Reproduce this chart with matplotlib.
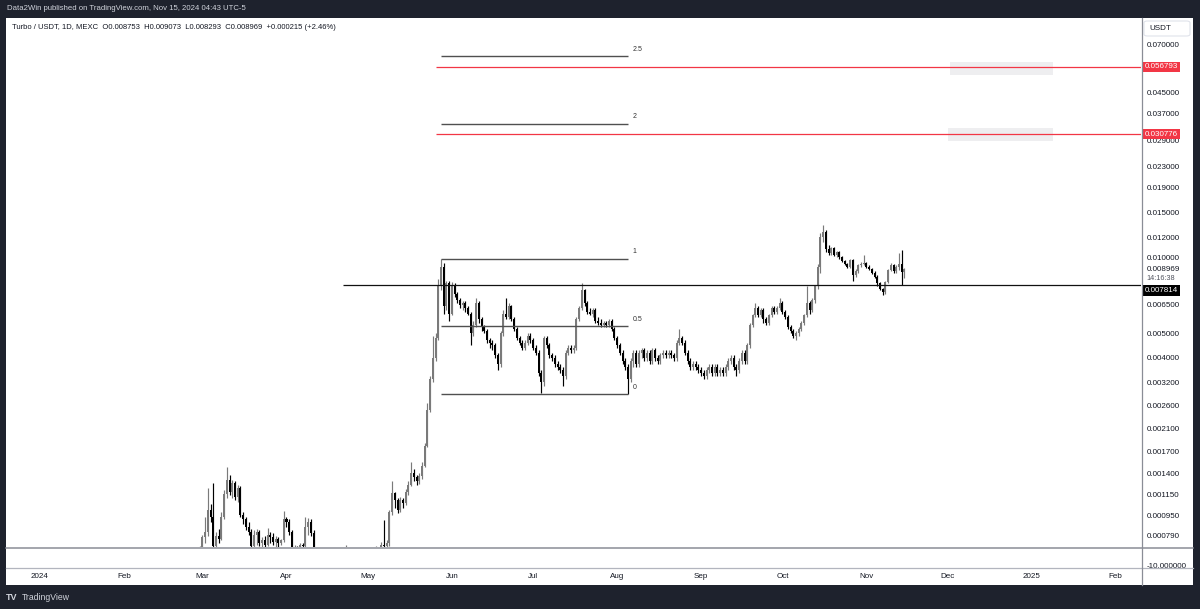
import numpy as np
import matplotlib
matplotlib.use("Agg")
import matplotlib.pyplot as plt
from matplotlib.patches import Rectangle, FancyBboxPatch
from matplotlib.lines import Line2D
from matplotlib.ticker import NullLocator

plt.rcParams['font.family'] = ['Liberation Sans', 'DejaVu Sans']

# ---------------- data ----------------
start_date = '2024-02-27'
first_open = 0.00060

close = [
    0.00062, 0.00066, 0.00069, 0.00078, 0.00082, 0.00100, 0.00094, 0.00072, 0.00079, 0.00077,
    0.00094, 0.00116, 0.00132, 0.00118, 0.00128, 0.00113, 0.00122, 0.00096, 0.00092, 0.00086,
    0.00082, 0.00072, 0.00080, 0.00082, 0.00074, 0.00076, 0.00073, 0.00080, 0.00078, 0.00075,
    0.00077, 0.00074, 0.00076, 0.00092, 0.00090, 0.00082, 0.00070, 0.00071, 0.00069, 0.00073,
    0.00072, 0.00086, 0.00090, 0.00081, 0.00068, 0.00064, 0.00062, 0.00060, 0.00057, 0.00055,
    0.00058, 0.00060, 0.00057, 0.00055, 0.00056, 0.00059, 0.00062, 0.00059, 0.00057, 0.00055,
    0.00054, 0.00056, 0.00058, 0.00060, 0.00062, 0.00064, 0.00063, 0.00065, 0.00068, 0.00073,
    0.00072, 0.00074, 0.00098, 0.00117, 0.00110, 0.00100, 0.00110, 0.00107, 0.00118, 0.00126,
    0.00140, 0.00135, 0.00130, 0.00136, 0.00150, 0.00180, 0.00250, 0.00330, 0.00400, 0.00480,
    0.0078, 0.0092, 0.0064, 0.0079, 0.0060, 0.0078, 0.0072, 0.0068, 0.0065, 0.0066,
    0.0063, 0.0060, 0.0050, 0.0054, 0.0066, 0.0057, 0.0053, 0.0051, 0.0047, 0.0046,
    0.0045, 0.0041, 0.0038, 0.0050, 0.0060, 0.0058, 0.0064, 0.0057, 0.0052, 0.0048,
    0.0046, 0.0044, 0.0046, 0.0049, 0.0047, 0.0044, 0.0042, 0.0035, 0.0032, 0.0048,
    0.0045, 0.0041, 0.0040, 0.0038, 0.0037, 0.0036, 0.0034, 0.0042, 0.0044, 0.0043,
    0.0044, 0.0057, 0.0063, 0.0074, 0.0066, 0.0061, 0.0060, 0.0062, 0.0056, 0.0055,
    0.0054, 0.0055, 0.0054, 0.0056, 0.0052, 0.0048, 0.0045, 0.0042, 0.0039, 0.0037,
    0.0033, 0.0039, 0.0042, 0.0038, 0.0042, 0.0043, 0.0040, 0.0042, 0.0039, 0.0043,
    0.0040, 0.0039, 0.0041, 0.0042, 0.0041, 0.0042, 0.0041, 0.0040, 0.0046, 0.0048,
    0.0046, 0.0042, 0.0039, 0.0037, 0.0038, 0.0037, 0.0036, 0.0035, 0.0034, 0.0036,
    0.0037, 0.0035, 0.0037, 0.0035, 0.0036, 0.0035, 0.0037, 0.0039, 0.0040, 0.0037,
    0.0036, 0.0039, 0.0042, 0.0039, 0.0045, 0.0054, 0.0059, 0.0063, 0.0059, 0.0062,
    0.0057, 0.0055, 0.0059, 0.0063, 0.0061, 0.0063, 0.0066, 0.0061, 0.0058, 0.0053,
    0.0051, 0.0049, 0.0050, 0.0052, 0.0055, 0.0059, 0.0066, 0.0062, 0.0068, 0.0077,
    0.0092, 0.0120, 0.0126, 0.0108, 0.0104, 0.0109, 0.0102, 0.0105, 0.0100, 0.0097,
    0.0094, 0.0092, 0.0098, 0.0085, 0.0088, 0.0093, 0.0094, 0.0095, 0.0092, 0.0090,
    0.0087, 0.0084, 0.0079, 0.0075, 0.0073, 0.0080, 0.0089, 0.0093, 0.0088, 0.0092,
    0.0094, 0.008753, 0.008969,
]

high = [
    0.00064, 0.00068, 0.00072, 0.00080, 0.00094, 0.00122, 0.00106, 0.00128, 0.00082, 0.00084,
    0.00098, 0.00120, 0.00148, 0.00138, 0.00132, 0.00130, 0.00126, 0.00124, 0.00098, 0.00094,
    0.00090, 0.00084, 0.00083, 0.00084, 0.00083, 0.00078, 0.00079, 0.00085, 0.00082, 0.00081,
    0.00079, 0.00078, 0.00077, 0.00099, 0.00094, 0.00092, 0.00083, 0.00073, 0.00072, 0.00074,
    0.00074, 0.00094, 0.00093, 0.00092, 0.00083, 0.00071, 0.00066, 0.00064, 0.00061, 0.00058,
    0.00060, 0.00062, 0.00061, 0.00058, 0.00058, 0.00062, 0.00073, 0.00063, 0.00060, 0.00058,
    0.00056, 0.00058, 0.00060, 0.00063, 0.00065, 0.00067, 0.00066, 0.00072, 0.00071, 0.00075,
    0.00091, 0.00076, 0.00100, 0.00130, 0.00118, 0.00112, 0.00113, 0.00112, 0.00121, 0.00130,
    0.00155, 0.00145, 0.00138, 0.00140, 0.00155, 0.00185, 0.00265, 0.00340, 0.00490, 0.00500,
    0.0082, 0.0099, 0.0095, 0.0081, 0.0081, 0.0080, 0.0079, 0.0073, 0.0069, 0.0067,
    0.0067, 0.0064, 0.0061, 0.0056, 0.0069, 0.0067, 0.0058, 0.0054, 0.0052, 0.0048,
    0.0047, 0.0046, 0.0042, 0.0051, 0.0062, 0.0069, 0.0066, 0.0065, 0.0058, 0.0053,
    0.0049, 0.0047, 0.0047, 0.0050, 0.0050, 0.0048, 0.0045, 0.0043, 0.0036, 0.0049,
    0.0049, 0.0046, 0.0042, 0.0041, 0.0039, 0.0038, 0.0037, 0.0043, 0.0045, 0.0045,
    0.0045, 0.0058, 0.0064, 0.0079, 0.0075, 0.0067, 0.0063, 0.0063, 0.0063, 0.0058,
    0.0057, 0.0056, 0.0056, 0.0057, 0.0057, 0.0053, 0.0049, 0.0046, 0.0043, 0.0040,
    0.0038, 0.0040, 0.0043, 0.0043, 0.0043, 0.0044, 0.0044, 0.0043, 0.0043, 0.0044,
    0.0044, 0.0041, 0.0042, 0.0043, 0.0043, 0.0043, 0.0043, 0.0042, 0.0047, 0.0052,
    0.0049, 0.0047, 0.0043, 0.0040, 0.0039, 0.0039, 0.0038, 0.0037, 0.0036, 0.0037,
    0.0038, 0.0038, 0.0038, 0.0038, 0.0037, 0.0037, 0.0038, 0.0040, 0.0041, 0.0041,
    0.0038, 0.0040, 0.0043, 0.0043, 0.0046, 0.0055, 0.0060, 0.0066, 0.0064, 0.0063,
    0.0063, 0.0058, 0.0060, 0.0064, 0.0064, 0.0064, 0.0069, 0.0067, 0.0062, 0.0059,
    0.0054, 0.0052, 0.0051, 0.0053, 0.0056, 0.0060, 0.0077, 0.0067, 0.0069, 0.0078,
    0.0094, 0.0125, 0.0134, 0.0128, 0.0112, 0.0110, 0.0110, 0.0106, 0.0106, 0.0101,
    0.0098, 0.0095, 0.0099, 0.0099, 0.0090, 0.0094, 0.0096, 0.0102, 0.0096, 0.0093,
    0.0091, 0.0088, 0.0085, 0.0080, 0.0076, 0.0081, 0.0090, 0.0095, 0.0094, 0.0093,
    0.0104, 0.0107, 0.009073,
]

low = [
    0.00058, 0.00061, 0.00064, 0.00068, 0.00074, 0.00079, 0.00090, 0.00068, 0.00070, 0.00074,
    0.00076, 0.00092, 0.00112, 0.00115, 0.00112, 0.00110, 0.00108, 0.00094, 0.00088, 0.00083,
    0.00080, 0.00070, 0.00071, 0.00073, 0.00072, 0.00071, 0.00070, 0.00072, 0.00074, 0.00073,
    0.00071, 0.00070, 0.00073, 0.00075, 0.00086, 0.00080, 0.00068, 0.00066, 0.00065, 0.00067,
    0.00069, 0.00071, 0.00080, 0.00079, 0.00066, 0.00062, 0.00060, 0.00058, 0.00055, 0.00053,
    0.00054, 0.00056, 0.00055, 0.00053, 0.00052, 0.00055, 0.00058, 0.00057, 0.00055, 0.00053,
    0.00052, 0.00053, 0.00055, 0.00057, 0.00059, 0.00061, 0.00060, 0.00062, 0.00064, 0.00066,
    0.00068, 0.00070, 0.00072, 0.00096, 0.00102, 0.00097, 0.00098, 0.00102, 0.00105, 0.00115,
    0.00124, 0.00130, 0.00126, 0.00127, 0.00133, 0.00148, 0.00178, 0.00245, 0.00320, 0.00390,
    0.0047, 0.0074, 0.0060, 0.0062, 0.0056, 0.0059, 0.0070, 0.0066, 0.0063, 0.0062,
    0.0061, 0.0059, 0.0045, 0.0049, 0.0053, 0.0055, 0.0051, 0.0050, 0.0046, 0.0044,
    0.0043, 0.0040, 0.0036, 0.0037, 0.0049, 0.0057, 0.0057, 0.0056, 0.0051, 0.0047,
    0.0045, 0.0043, 0.0043, 0.0045, 0.0046, 0.0043, 0.0041, 0.0034, 0.0029, 0.0031,
    0.0044, 0.0040, 0.0039, 0.0037, 0.0036, 0.0035, 0.0031, 0.0033, 0.0041, 0.0042,
    0.0042, 0.0043, 0.0056, 0.0062, 0.0064, 0.0060, 0.0059, 0.0058, 0.0055, 0.0054,
    0.0053, 0.0053, 0.0053, 0.0053, 0.0051, 0.0047, 0.0044, 0.0041, 0.0038, 0.0036,
    0.00287, 0.0032, 0.0037, 0.0037, 0.0037, 0.0040, 0.0039, 0.0039, 0.0038, 0.0038,
    0.0039, 0.0038, 0.0038, 0.0040, 0.0040, 0.0040, 0.0040, 0.0039, 0.0039, 0.0045,
    0.0045, 0.0041, 0.0038, 0.0036, 0.0036, 0.0036, 0.0035, 0.0034, 0.0033, 0.0033,
    0.0035, 0.0034, 0.0034, 0.0034, 0.0034, 0.0034, 0.0034, 0.0036, 0.0038, 0.0036,
    0.0034, 0.0035, 0.0038, 0.0038, 0.0038, 0.0044, 0.0053, 0.0058, 0.0058, 0.0058,
    0.0055, 0.0054, 0.0054, 0.0058, 0.0060, 0.0060, 0.0062, 0.0060, 0.0057, 0.0052,
    0.0050, 0.0048, 0.0047, 0.0049, 0.0051, 0.0054, 0.0058, 0.0060, 0.0061, 0.0066,
    0.0075, 0.0087, 0.0115, 0.0105, 0.0102, 0.0102, 0.0101, 0.0100, 0.0099, 0.0096,
    0.0093, 0.0091, 0.0091, 0.0081, 0.0084, 0.0087, 0.0092, 0.0093, 0.0091, 0.0089,
    0.0086, 0.0083, 0.0077, 0.0074, 0.0071, 0.0072, 0.0079, 0.0088, 0.0087, 0.0087,
    0.0089, 0.0078, 0.008293,
]

# y axis tick values
price_ticks = [0.070, 0.045, 0.037, 0.029, 0.023, 0.019, 0.015, 0.012, 0.010,
               0.0065, 0.005, 0.004, 0.0032, 0.0026, 0.0021, 0.0017, 0.0014,
               0.00115, 0.00095, 0.00079]

# time axis labels
month_dates = ['2024-01-01', '2024-02-01', '2024-03-01', '2024-04-01', '2024-05-01',
               '2024-06-01', '2024-07-01', '2024-08-01', '2024-09-01', '2024-10-01',
               '2024-11-01', '2024-12-01', '2025-01-01', '2025-02-01']
month_labels = ['2024', 'Feb', 'Mar', 'Apr', 'May', 'Jun', 'Jul', 'Aug', 'Sep', 'Oct',
                'Nov', 'Dec', '2025', 'Feb']

# drawings
support_level = 0.007814
support_start = '2024-04-22'
red_levels = [0.056793, 0.030776]
red_start = '2024-05-26'
fib_labels = ['2.5', '2', '1', '0.5', '0']
fib_prices = [0.0625, 0.0338, 0.0099, 0.00533, 0.00287]
fib_start = '2024-05-28'
fib_end = '2024-08-05'
gray_boxes = [  # (start date, end date, low price, high price)
    ('2024-12-02', '2025-01-09', 0.0528, 0.0594),
    ('2024-12-01', '2025-01-09', 0.0289, 0.0326),
]
last_price = 0.008969
countdown = '14:16:38'

# ---------------- helpers ----------------
W, H = 1200, 609
EPOCH = np.datetime64('2024-01-01')


def day(s):
    return int((np.datetime64(s) - EPOCH).astype(int))


def fx(px):
    return px / W


def fy(py):
    return 1 - py / H


TXT = '#131722'
UP = '#7a7a7a'
DOWN = '#000000'
FS = 5.8

fig = plt.figure(figsize=(12, 6.09), dpi=100)
fig.patch.set_facecolor('#1e222d')

# white chart panel
fig.patches.append(Rectangle((fx(6), fy(585)), fx(1193) - fx(6), fy(18) - fy(585),
                             transform=fig.transFigure, facecolor='white',
                             edgecolor='none', zorder=-5))

# ---------------- price pane ----------------
ax = fig.add_axes([fx(6), fy(547), fx(1141) - fx(6), fy(18) - fy(547)])
ax.set_facecolor('none')
ax.set_yscale('log')
ax.set_ylim(0.000714, 0.08873)
ax.set_xlim(-12.5, 406.3)
for s in ax.spines.values():
    s.set_visible(False)

c = np.array(close)
h = np.array(high)
l = np.array(low)
o = np.concatenate([[first_open], c[:-1]])
h = np.maximum(h, np.maximum(o, c))
l = np.minimum(l, np.minimum(o, c))
x = day(start_date) + np.arange(len(c))
is_up = c >= o
cols = np.where(is_up, UP, DOWN)

ax.vlines(x, l, h, colors=cols, linewidth=0.85, zorder=3)
bottoms = np.minimum(o, c)
heights = np.maximum(np.abs(c - o), bottoms * 0.008)
ax.bar(x, heights, bottom=bottoms, width=0.74, color=cols, linewidth=0, zorder=3)

# horizontal support line
ax.hlines(support_level, day(support_start), 420, color='#111111', linewidth=0.9, zorder=4)
# gray boxes
for d1, d2, p1, p2 in gray_boxes:
    ax.add_patch(Rectangle((day(d1), p1), day(d2) - day(d1), p2 - p1,
                           facecolor='#eeeef0', edgecolor='none', zorder=1))
# red lines
ax.hlines(red_levels, day(red_start), 420, color='#f23645', linewidth=0.9, zorder=4)
# fib lines
ax.hlines(fib_prices, day(fib_start), day(fib_end), color='#505050', linewidth=1.0, zorder=4)
for lab, p in zip(fib_labels, fib_prices):
    ax.annotate(lab, (day(fib_end) + 1.6, p), xytext=(0, 2.5), textcoords='offset points',
                fontsize=5.0, color='#333333', ha='left', va='bottom')

# y axis ticks on right
ax.set_yticks(price_ticks)
ax.set_yticklabels(['%.6f' % v for v in price_ticks])
ax.yaxis.set_minor_locator(NullLocator())
ax.yaxis.tick_right()
ax.tick_params(axis='y', length=0, pad=4.2, labelsize=FS, labelcolor=TXT)
ax.set_xticks([])

# price labels
for p in red_levels:
    ax.annotate('%.6f' % p, (1.0, p), xycoords=('axes fraction', 'data'),
                xytext=(2.6, 0), textcoords='offset points', ha='left', va='center',
                fontsize=FS, color='white', annotation_clip=False, zorder=6,
                bbox=dict(boxstyle='square,pad=0.22', fc='#f23645', ec='none'))
ax.annotate('%.6f' % support_level, (1.0, support_level), xycoords=('axes fraction', 'data'),
            xytext=(2.6, -4.3), textcoords='offset points', ha='left', va='center',
            fontsize=FS, color='white', annotation_clip=False, zorder=6,
            bbox=dict(boxstyle='square,pad=0.22', fc='#000000', ec='none'))
ax.annotate('%.6f' % last_price, (1.0, last_price), xycoords=('axes fraction', 'data'),
            xytext=(4.2, 0), textcoords='offset points', ha='left', va='center',
            fontsize=FS, color=TXT, annotation_clip=False, zorder=6,
            bbox=dict(boxstyle='square,pad=0.1', fc='white', ec='none'))
ax.annotate(countdown, (1.0, last_price), xycoords=('axes fraction', 'data'),
            xytext=(4.2, -6.8), textcoords='offset points', ha='left', va='center',
            fontsize=5.2, color='#50535e', annotation_clip=False, zorder=6)

# ---------------- time axis ----------------
axt = fig.add_axes([fx(6), fy(585), fx(1141) - fx(6), fy(568) - fy(585)])
axt.set_facecolor('none')
axt.set_xlim(-12.5, 406.3)
axt.set_ylim(0, 1)
axt.axis('off')
for d, lab in zip(month_dates, month_labels):
    axt.text(day(d), 0.5, lab, ha='center', va='center', fontsize=FS, color=TXT)

# ---------------- frame lines ----------------
def fline(x0, y0, x1, y1, color='#9598a1', lw=0.9):
    fig.lines.append(Line2D([fx(x0), fx(x1)], [fy(y0), fy(y1)], transform=fig.transFigure,
                            color=color, linewidth=lw, zorder=5))

fline(6, 547.5, 1193, 547.5, color='#8a8d96', lw=1.1)
fline(6, 568, 1193, 568, color='#b2b5be', lw=0.9)
fline(1141.5, 18, 1141.5, 585, color='#8a8d96', lw=0.9)

# lower pane label
fig.text(fx(1147), fy(566), '-10.000000', fontsize=FS, color=TXT, ha='left', va='center')

# USDT box
fig.patches.append(FancyBboxPatch((fx(1144), fy(36)), fx(1190) - fx(1144), fy(21) - fy(36),
                                  boxstyle='round,pad=0,rounding_size=0.003',
                                  transform=fig.transFigure, facecolor='white',
                                  edgecolor='#e0e3eb', linewidth=0.8, zorder=4))
fig.text(fx(1149), fy(28.5), 'USDT', fontsize=FS, color=TXT, ha='left', va='center', zorder=6)

# header texts
fig.text(fx(7), fy(9), 'Data2Win published on TradingView.com, Nov 15, 2024 04:43 UTC-5',
         fontsize=5.6, color='#d1d4dc', ha='left', va='center')
fig.text(fx(12), fy(27.5),
         'Turbo / USDT, 1D, MEXC  O0.008753  H0.009073  L0.008293  C0.008969  +0.000215 (+2.46%)',
         fontsize=5.5, color=TXT, ha='left', va='center')

# footer logo
fig.text(fx(6), fy(598), 'TV', fontsize=6.5, color='#d1d4dc', ha='left', va='center',
         fontweight='bold')
fig.text(fx(22), fy(598), 'TradingView', fontsize=6.2, color='#d1d4dc', ha='left', va='center')

fig.savefig('out.png', dpi=100, facecolor=fig.get_facecolor())
